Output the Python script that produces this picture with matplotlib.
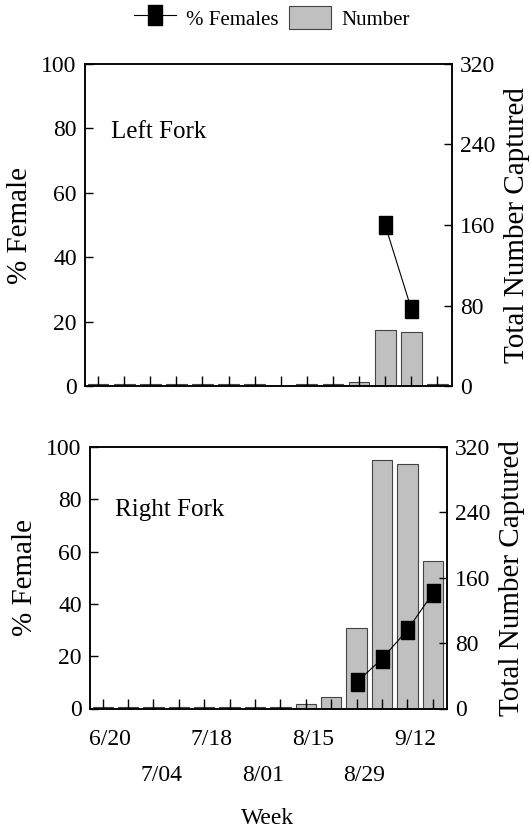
import matplotlib
matplotlib.use('Agg')
import matplotlib.pyplot as plt
import numpy as np
from matplotlib.lines import Line2D
from matplotlib.patches import Patch

weeks = ['6/20', '6/27', '7/04', '7/11', '7/18', '7/25', '8/01',
         '8/08', '8/15', '8/22', '8/29', '9/05', '9/12', '9/19']
shown_labels = ['6/20', '7/04', '7/18', '8/01', '8/15', '8/29', '9/12']

left_number = [1.5, 1.5, 1.5, 1.5, 1.5, 1.5, 1.5, 0, 1.5, 1.5, 3.5, 56, 54, 1.5]
left_pct = [np.nan] * 11 + [50, 24, np.nan]

right_number = [1.5, 1.5, 1.5, 1.5, 1.5, 1.5, 1.5, 1.5, 6, 14, 99, 304, 299, 181]
right_pct = [np.nan] * 10 + [10, 19, 30, 44]

plt.rcParams['font.family'] = ['Liberation Serif', 'DejaVu Serif']
plt.rcParams['axes.linewidth'] = 1.1

rect = [(-0.36, -0.5), (0.36, -0.5), (0.36, 0.5), (-0.36, 0.5), (-0.36, -0.5)]


def panel(pos, number, pct, title, title_y, show_x):
    '''one fork: bars on right axis, % females on left'''
    ax = fig.add_axes(pos)
    ax2 = ax.twinx()
    x = np.arange(1, len(weeks) + 1)
    ax2.bar(x, number, width=0.8, color='#c0c0c0', edgecolor='#444444', linewidth=0.8)
    ax.plot(x, pct, color='black', lw=0.8, marker=rect, markersize=13,
            markerfacecolor='black', markeredgecolor='black')
    ax.set_zorder(ax2.get_zorder() + 1)
    ax.patch.set_visible(False)

    ax.set_xlim(0.5, 14.55)
    ax.set_ylim(0, 100)
    ax2.set_ylim(0, 320)
    ax.set_yticks([0, 20, 40, 60, 80, 100])
    ax2.set_yticks([0, 80, 160, 240, 320])
    ax.set_xticks(x)
    ax.set_xticklabels([])
    ax.tick_params(axis='x', direction='in', length=7.2, width=1.0)
    ax.tick_params(axis='y', direction='in', length=5.8, width=1.0, labelsize=17, pad=6)
    ax2.tick_params(axis='y', direction='in', length=5.8, width=1.0, labelsize=17, pad=6)
    ax.set_ylabel('% Female', fontsize=21, labelpad=6)
    ax2.set_ylabel('Total Number Captured', fontsize=21, labelpad=6)
    ax.text(0.07, title_y, title, transform=ax.transAxes, fontsize=18, va='center')

    if show_x:
        for i, w in enumerate(weeks):
            if w in shown_labels:
                row = shown_labels.index(w) % 2
                ax.text(i + 1 + 0.3, -0.12 - 0.135 * row, w,
                        transform=ax.get_xaxis_transform(),
                        ha='center', va='center', fontsize=17)
    return ax


fig = plt.figure(figsize=(5.31, 8.31), dpi=100)

panel([85 / 531, 1 - 386 / 831, 366.7 / 531, 322 / 831],
      left_number, left_pct, 'Left Fork', 0.79, False)
ax = panel([90 / 531, 1 - 708.5 / 831, 356.7 / 531, 261.5 / 831],
           right_number, right_pct, 'Right Fork', 0.76, True)

fig.text(268 / 531, 1 - 818 / 831, 'Week', ha='center', va='center', fontsize=17)

handles = [Line2D([], [], color='black', lw=0.8, marker=rect, markersize=14,
                  markerfacecolor='black'),
           Patch(facecolor='#c0c0c0', edgecolor='#444444', linewidth=0.8)]
fig.legend(handles, ['% Females', 'Number'], loc='center',
           bbox_to_anchor=(272 / 531, 1 - 18 / 831), ncol=2, frameon=False,
           fontsize=15, handlelength=2.0, handleheight=1.25,
           handletextpad=0.5, columnspacing=0.5)

fig.savefig('out.png', dpi=100)
